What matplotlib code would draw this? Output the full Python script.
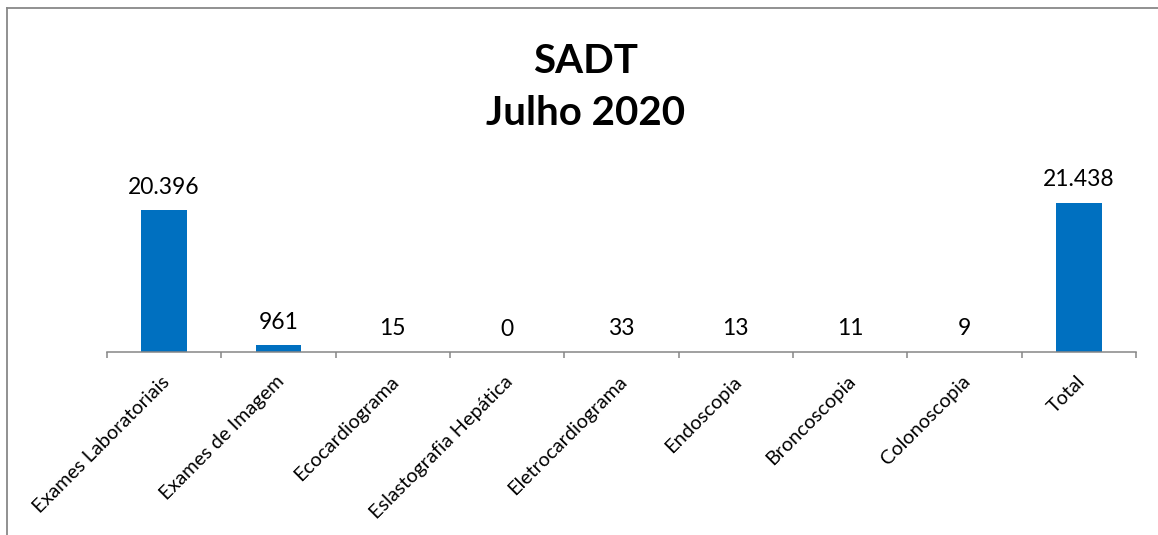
import matplotlib
matplotlib.use('Agg')
import matplotlib.pyplot as plt
import matplotlib.transforms as mtransforms
from matplotlib.lines import Line2D

plt.rcParams['font.family'] = ['Lato', 'DejaVu Sans']

categories = ['Exames Laboratoriais', 'Exames de Imagem', 'Ecocardiograma',
              'Eslastografia Hepática', 'Eletrocardiograma', 'Endoscopia',
              'Broncoscopia', 'Colonoscopia', 'Total']
values = [20396, 961, 15, 0, 33, 13, 11, 9, 21438]
title_lines = ['SADT', 'Julho 2020']

bar_color = '#0070C0'
axis_color = '#868686'


def fmt_pt(v):
    # thousands separator as in pt-BR
    return f'{v:,}'.replace(',', '.')


fig = plt.figure(figsize=(11.58, 5.35), dpi=100)
ax = fig.add_axes([107 / 1158, 1 - 352 / 535, (1136 - 107) / 1158, (352 - 171) / 535])

x = list(range(len(values)))
bars = ax.bar(x, values, width=0.4, color=bar_color)
ax.bar_label(bars, labels=[fmt_pt(v) for v in values], padding=9, fontsize=16.5)

ax.set_xlim(-0.5, len(values) - 0.5)
ax.set_ylim(0, 26000)

for side in ['top', 'right', 'left']:
    ax.spines[side].set_visible(False)
ax.spines['bottom'].set_color(axis_color)
ax.spines['bottom'].set_linewidth(1.1)

ax.set_yticks([])
ax.set_xticks(x)
ax.set_xticklabels(categories, rotation=45, ha='right', rotation_mode='anchor', fontsize=14.3)
ax.tick_params(axis='x', which='major', length=0, pad=15)
ax.set_xticks([i - 0.5 for i in range(len(values) + 1)], minor=True)
ax.tick_params(axis='x', which='minor', length=4.5, width=1.1, color=axis_color)

# nudge category labels slightly left
shift = mtransforms.ScaledTranslation(-3 / 100, 0, fig.dpi_scale_trans)
for lbl in ax.get_xticklabels():
    lbl.set_transform(lbl.get_transform() + shift)

# title, two lines
fig.text(586 / 1158, 1 - 73 / 535, title_lines[0], ha='center', va='baseline',
         fontsize=29, fontweight='bold')
fig.text(586 / 1158, 1 - 125 / 535, title_lines[1], ha='center', va='baseline',
         fontsize=29, fontweight='bold')

# chart area border (top and left visible)
fig.add_artist(Line2D([6.5 / 1158, 6.5 / 1158], [0, 1 - 8 / 535],
                      transform=fig.transFigure, color='#888888', lw=1.3))
fig.add_artist(Line2D([6.5 / 1158, 1], [1 - 8 / 535, 1 - 8 / 535],
                      transform=fig.transFigure, color='#888888', lw=1.3))

fig.savefig('out.png', dpi=100)
